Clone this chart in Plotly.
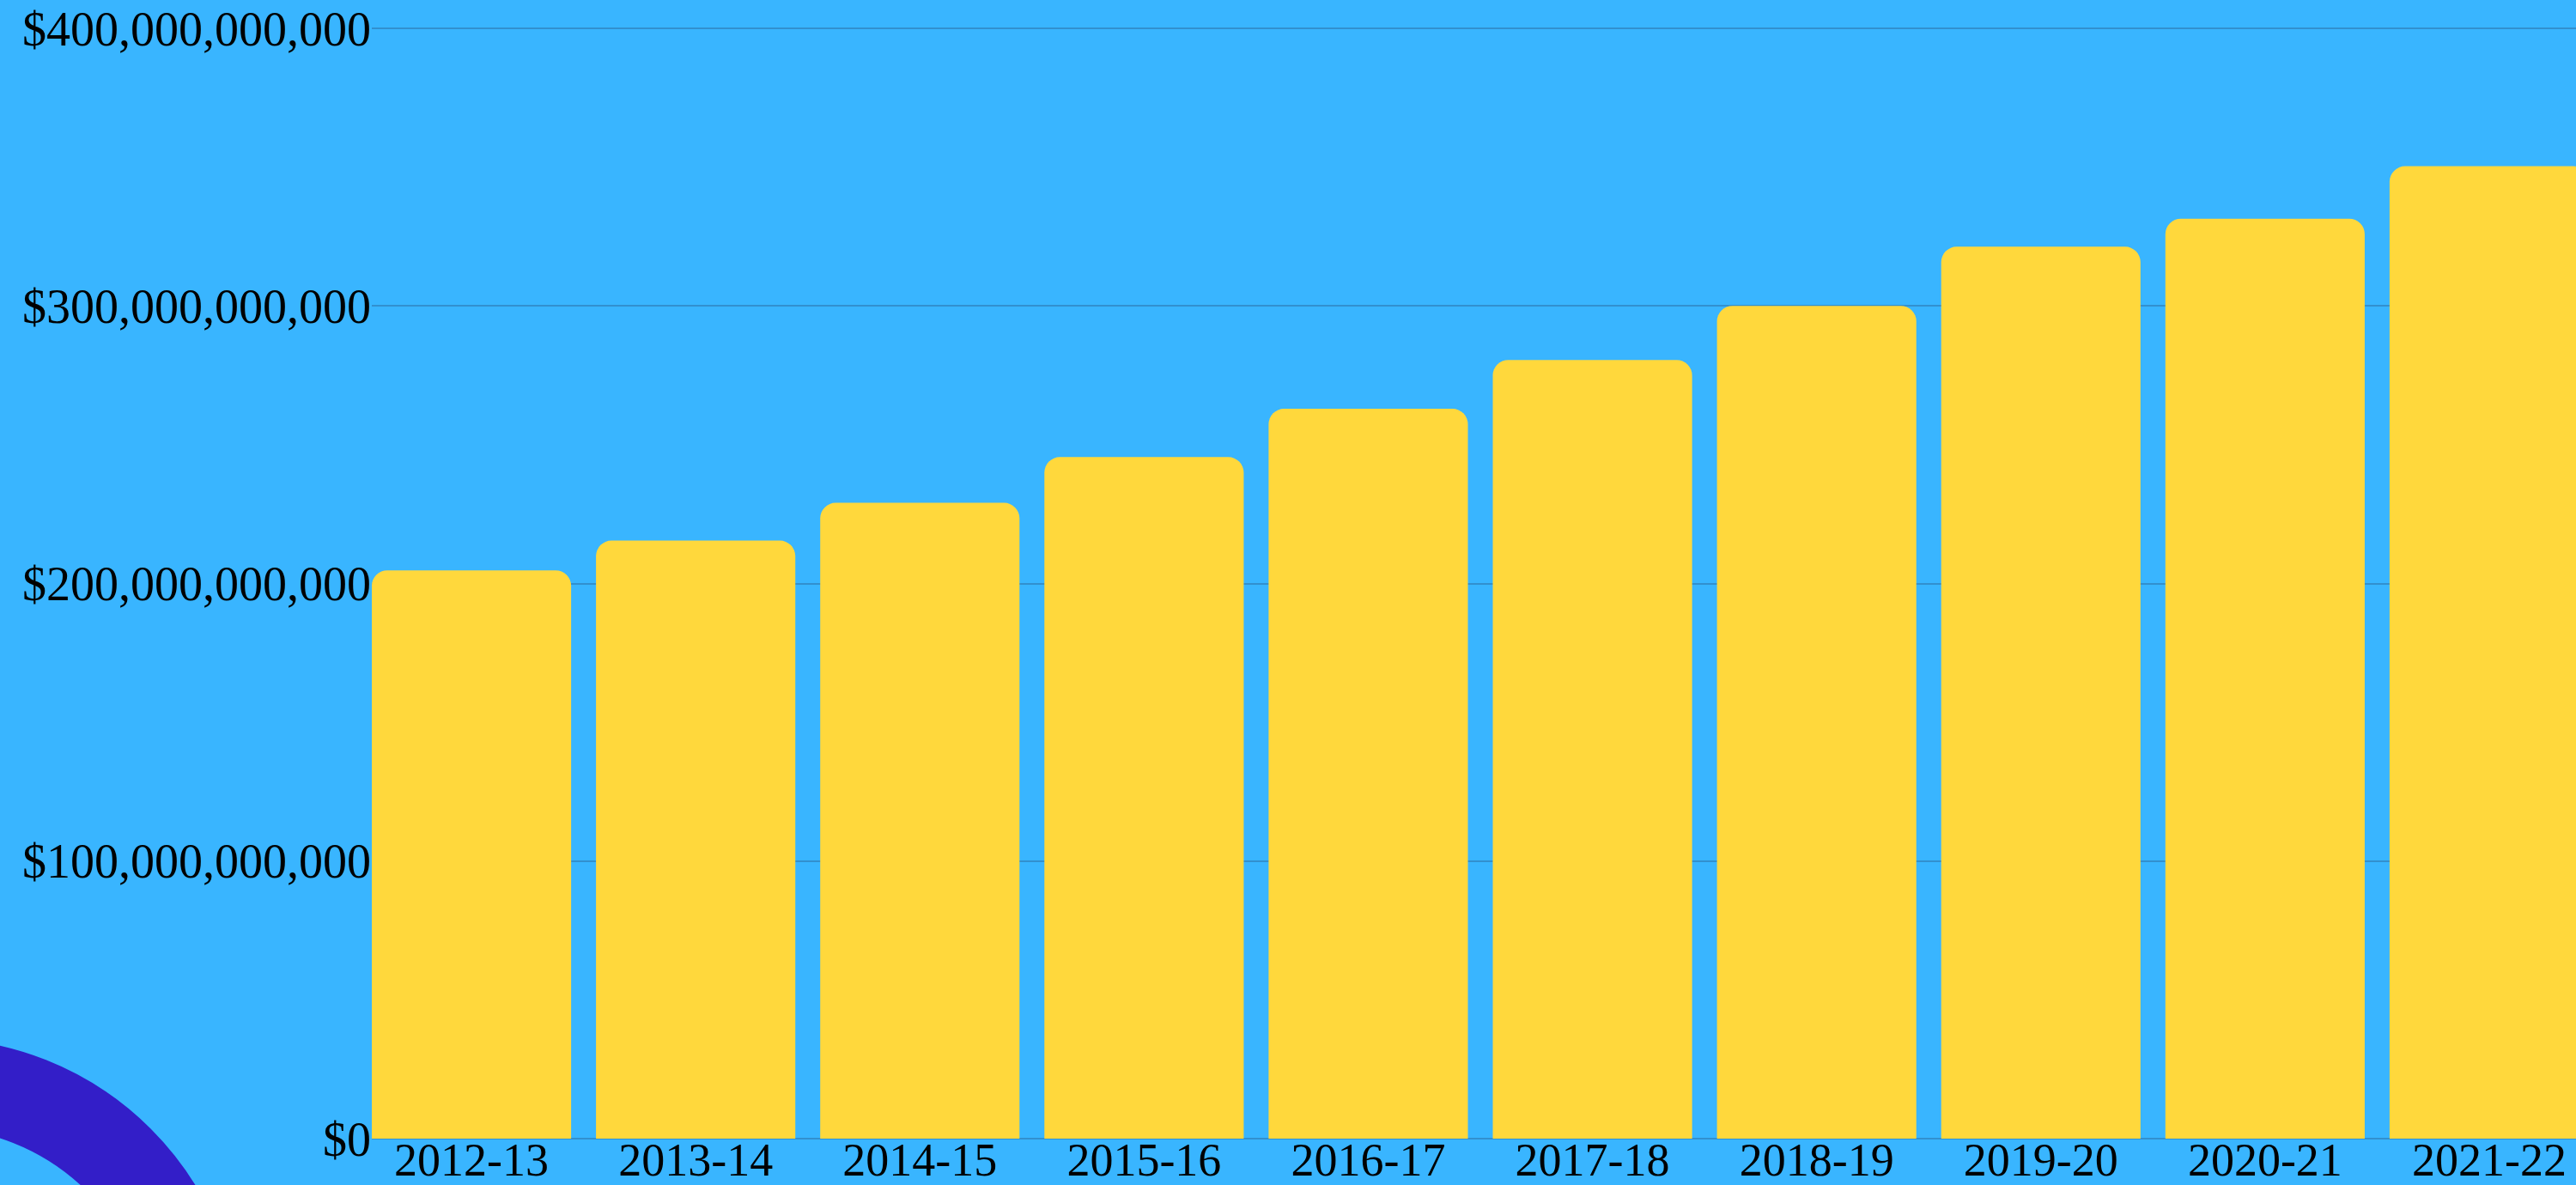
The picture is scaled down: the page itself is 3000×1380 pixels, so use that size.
import plotly.graph_objects as go

# ---- data ----
years = ["2012-13", "2013-14", "2014-15", "2015-16", "2016-17",
         "2017-18", "2018-19", "2019-20", "2020-21", "2021-22"]
spending = [204.8e9, 215.5e9, 229.1e9, 245.6e9, 263.0e9,
            280.6e9, 300.1e9, 321.4e9, 331.5e9, 350.4e9]
y_ticks = [0, 100e9, 200e9, 300e9, 400e9]
y_tick_labels = ["$" + f"{v:,.0f}" for v in y_ticks]

# ---- layout constants (pixels) ----
W, H = 3000, 1380
ML, MR, MT, MB = 433, 0, 1, 54
BG = "#39B5FF"
BAR = "#FFD83C"
RING = "#331EC8"
GRID = "#3290CF"
FONT = "Liberation Serif"

plot_w = W - ML - MR
plot_h = H - MT - MB


def px_to_paper(px, py):
    return (px - ML) / plot_w, (H - MB - py) / plot_h


fig = go.Figure(
    go.Bar(
        x=years,
        y=spending,
        marker=dict(color=BAR, line=dict(width=0), cornerradius=18),
        hoverinfo="skip",
    )
)

# decorative ring in bottom-left corner
cx, cy, r_mid, ring_w = -79, 1569, 308, 104
x0, y0 = px_to_paper(cx - r_mid, cy + r_mid)
x1, y1 = px_to_paper(cx + r_mid, cy - r_mid)
fig.add_shape(
    type="circle", xref="paper", yref="paper",
    x0=x0, y0=y0, x1=x1, y1=y1,
    line=dict(color=RING, width=ring_w),
    fillcolor="rgba(0,0,0,0)", layer="below",
)

fig.update_layout(
    width=W, height=H,
    margin=dict(l=ML, r=MR, t=MT, b=MB, pad=0, autoexpand=False),
    paper_bgcolor=BG, plot_bgcolor=BG,
    bargap=0.111,
    showlegend=False,
    font=dict(family=FONT, size=54, color="black"),
)
fig.update_xaxes(
    type="category",
    automargin=False,
    range=[-0.4445, -0.4445 + plot_w / 261.1],
    showgrid=False, zeroline=False, showline=False, ticks="",
    ticklabelstandoff=-12,
    tickfont=dict(family=FONT, size=54, color="black"),
)
fig.update_yaxes(
    automargin=False,
    range=[0, 4.1e11],
    tickmode="array", tickvals=y_ticks, ticktext=y_tick_labels,
    showgrid=True, gridcolor=GRID, gridwidth=2,
    zeroline=True, zerolinecolor=GRID, zerolinewidth=2,
    showline=False, ticks="",
    tickfont=dict(family=FONT, size=56, color="black"),
)

fig.write_html(
    "out.html",
    config={"displayModeBar": False},
    post_script="document.body.style.margin='0';document.body.style.overflow='hidden';",
)
